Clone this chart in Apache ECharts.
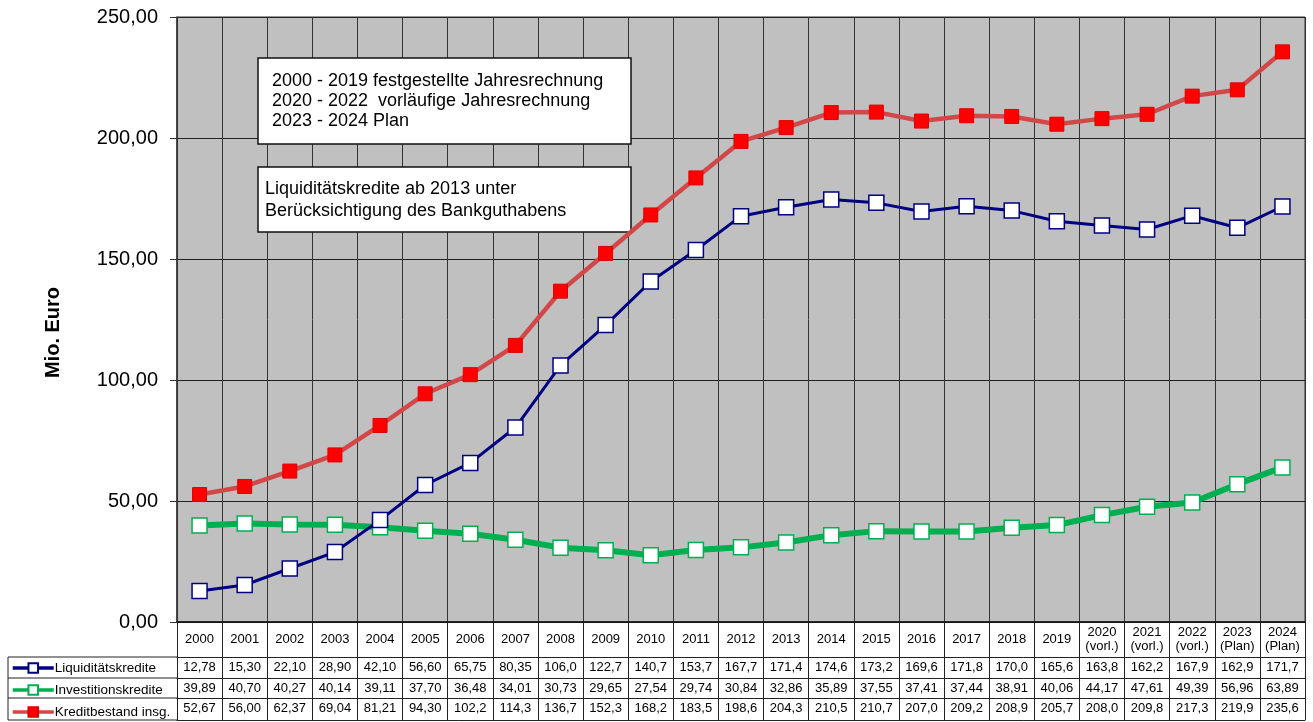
<!DOCTYPE html>
<html>
<head>
<meta charset="utf-8">
<script src="https://cdn.jsdelivr.net/npm/echarts@6/dist/echarts.min.js"></script>
<style>
  html, body { margin: 0; padding: 0; background: #fff; }
  #chart { width: 1313px; height: 722px; }
</style>
</head>
<body>
<div id="chart"></div>
<script>
// Jahre (Kategorien)
const years = ['2000', '2001', '2002', '2003', '2004', '2005', '2006', '2007', '2008', '2009',
  '2010', '2011', '2012', '2013', '2014', '2015', '2016', '2017', '2018', '2019',
  '2020\n(vorl.)', '2021\n(vorl.)', '2022\n(vorl.)', '2023\n(Plan)', '2024\n(Plan)'];

// Werte in Mio. Euro
const liquiditaet = [12.78, 15.30, 22.10, 28.90, 42.10, 56.60, 65.75, 80.35, 106.0, 122.7,
  140.7, 153.7, 167.7, 171.4, 174.6, 173.2, 169.6, 171.8, 170.0, 165.6,
  163.8, 162.2, 167.9, 162.9, 171.7];
const investition = [39.89, 40.70, 40.27, 40.14, 39.11, 37.70, 36.48, 34.01, 30.73, 29.65,
  27.54, 29.74, 30.84, 32.86, 35.89, 37.55, 37.41, 37.44, 38.91, 40.06,
  44.17, 47.61, 49.39, 56.96, 63.89];
const kreditbestand = [52.67, 56.00, 62.37, 69.04, 81.21, 94.30, 102.2, 114.3, 136.7, 152.3,
  168.2, 183.5, 198.6, 204.3, 210.5, 210.7, 207.0, 209.2, 208.9, 205.7,
  208.0, 209.8, 217.3, 219.9, 235.6];

const seriesNames = ['Liquiditätskredite', 'Investitionskredite', 'Kreditbestand insg.'];
const infoText1 = ['2000 - 2019 festgestellte Jahresrechnung', '2020 - 2022  vorläufige Jahresrechnung', '2023 - 2024 Plan'];
const infoText2 = ['Liquiditätskredite ab 2013 unter', 'Berücksichtigung des Bankguthabens'];

const FONT = '"Liberation Sans", Arial, sans-serif';

// Zahlen wie in der Tabelle: 4 Stellen, Komma
function fmt(v) {
  return (v < 100 ? v.toFixed(2) : v.toFixed(1)).replace('.', ',');
}

// Tabellenzeile als zusaetzliche x-Achse
function tableAxis(values, offset) {
  return {
    type: 'category',
    gridIndex: 0,
    position: 'bottom',
    offset: offset,
    data: values ? values.map(fmt) : years.map(() => ''),
    axisLine: { show: true, lineStyle: { color: '#222', width: 1 } },
    axisTick: { show: false },
    splitLine: { show: false },
    axisLabel: {
      show: !!values,
      interval: 0,
      margin: 10.5,
      verticalAlign: 'middle',
      fontFamily: FONT,
      fontSize: 13,
      color: '#000'
    }
  };
}

const chart = echarts.init(document.getElementById('chart'));

const hLine = (y) => ({
  type: 'line',
  shape: { x1: 8, y1: y, x2: 177, y2: y },
  style: { stroke: '#222', lineWidth: 1 },
  z: 10
});

chart.setOption({
  backgroundColor: '#fff',
  animation: false,
  grid: {
    left: 177,
    right: 8,
    top: 17,
    bottom: 100,
    show: true,
    backgroundColor: '#C0C0C0',
    borderColor: '#333',
    borderWidth: 1
  },
  legend: {
    orient: 'vertical',
    left: 11,
    top: 661,
    itemWidth: 41,
    itemHeight: 12,
    itemGap: 8,
    padding: 0,
    lineStyle: { width: 3.5 },
    textStyle: { fontFamily: FONT, fontSize: 13.5, color: '#000', padding: [0, 0, 0, -4] },
    data: seriesNames
  },
  xAxis: [
    {
      type: 'category',
      data: years,
      boundaryGap: true,
      axisLine: { show: true, lineStyle: { color: '#111', width: 1.5 } },
      axisTick: { show: true, interval: 0, length: 98, lineStyle: { color: '#222', width: 1 } },
      splitLine: { show: true, interval: 0, lineStyle: { color: '#333', width: 1 } },
      axisLabel: {
        interval: 0,
        margin: 17,
        verticalAlign: 'middle',
        lineHeight: 14,
        fontFamily: FONT,
        fontSize: 13,
        color: '#000'
      }
    },
    tableAxis(liquiditaet, 35),
    tableAxis(investition, 56),
    tableAxis(kreditbestand, 76),
    tableAxis(null, 98)
  ],
  yAxis: {
    type: 'value',
    min: 0,
    max: 250,
    interval: 50,
    name: 'Mio. Euro',
    nameLocation: 'middle',
    nameGap: 114,
    nameTextStyle: { fontFamily: FONT, fontSize: 20, fontWeight: 'bold', color: '#000', padding: [0, 26, 0, 0] },
    axisLine: { show: true, lineStyle: { color: '#333', width: 1.5 } },
    axisTick: { show: true, length: 7, lineStyle: { color: '#333' } },
    splitLine: { show: true, lineStyle: { color: '#222', width: 1 } },
    axisLabel: {
      margin: 19,
      fontFamily: FONT,
      fontSize: 20,
      color: '#000',
      formatter: (v) => v.toFixed(2).replace('.', ',')
    }
  },
  series: [
    {
      name: seriesNames[0],
      type: 'line',
      data: liquiditaet,
      symbol: 'rect',
      symbolSize: 15,
      lineStyle: { color: '#000080', width: 3 },
      itemStyle: { color: '#fff', borderColor: '#000080', borderWidth: 1.5 },
      z: 4
    },
    {
      name: seriesNames[1],
      type: 'line',
      data: investition,
      symbol: 'rect',
      symbolSize: 15,
      lineStyle: { color: '#00B050', width: 6 },
      itemStyle: { color: '#fff', borderColor: '#00B050', borderWidth: 1.5 },
      z: 3
    },
    {
      name: seriesNames[2],
      type: 'line',
      data: kreditbestand,
      symbol: 'rect',
      symbolSize: 14,
      lineStyle: { color: '#D24848', width: 4.5 },
      itemStyle: { color: '#FF0000', borderColor: '#E00000', borderWidth: 1 },
      z: 5
    }
  ],
  graphic: [
    // linke Tabellenspalte
    hLine(657), hLine(678), hLine(698), hLine(720),
    {
      type: 'line',
      shape: { x1: 8, y1: 657, x2: 8, y2: 720 },
      style: { stroke: '#222', lineWidth: 1 },
      z: 10
    },
    // Hinweiskaesten
    {
      type: 'rect',
      shape: { x: 258, y: 58, width: 373, height: 86 },
      style: { fill: '#fff', stroke: '#111', lineWidth: 1.5 },
      z: 2
    },
    {
      type: 'text',
      left: 272,
      top: 71,
      style: { text: infoText1.join('\n'), font: '18px ' + FONT, lineHeight: 20, fill: '#000' },
      z: 3
    },
    {
      type: 'rect',
      shape: { x: 258, y: 167, width: 373, height: 65 },
      style: { fill: '#fff', stroke: '#111', lineWidth: 1.5 },
      z: 2
    },
    {
      type: 'text',
      left: 265,
      top: 178,
      style: { text: infoText2.join('\n'), font: '18px ' + FONT, lineHeight: 22, fill: '#000' },
      z: 3
    }
  ]
});
</script>
</body>
</html>
